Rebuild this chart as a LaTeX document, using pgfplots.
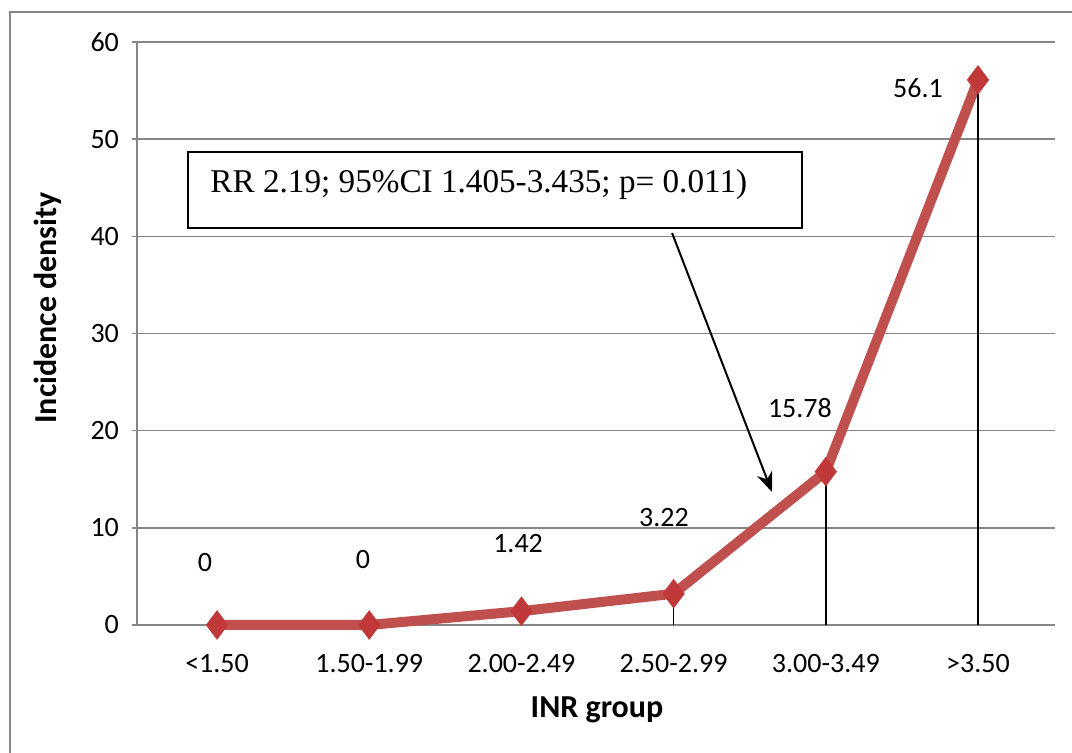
\documentclass[border=0pt]{standalone}
\usepackage{pgfplots}
\pgfplotsset{compat=1.18}
\usepackage{fontspec}
\setmainfont{Carlito}
\newfontfamily\boxfont{Liberation Serif}
\usetikzlibrary{arrows.meta}
\definecolor{gridc}{RGB}{134,134,134}
\definecolor{linec}{RGB}{192,80,77}
\definecolor{markc}{RGB}{192,57,56}
\begin{document}
\begin{tikzpicture}
\useasboundingbox (0,0) rectangle (536pt,376.5pt);
\draw[gridc, line width=1pt] (5pt,-2pt) -- (5pt,370.5pt) -- (538pt,370.5pt);
\begin{axis}[
  at={(68.5pt,64pt)}, anchor=south west,
  scale only axis, width=459pt, height=291.5pt,
  xmin=-0.526, xmax=5.506, ymin=0, ymax=60,
  clip=false,
  axis x line=bottom, axis y line=left,
  axis line style={gridc, line width=0.75pt, -},
  xtick={0,1,2,3,4,5},
  xticklabels={{<1.50},{1.50-1.99},{2.00-2.49},{2.50-2.99},{3.00-3.49},{>3.50}},
  ytick={0,10,20,30,40,50,60},
  ymajorgrids, grid style={gridc, line width=0.75pt},
  xtick style={draw=none},
  ytick style={gridc, line width=0.75pt},
  tick align=outside, major tick length=2.5pt,
  /pgf/number format/assume math mode=true,
  ticklabel style={font=\fontsize{14}{16}\selectfont},
  xticklabel style={yshift=-8.5pt},
  yticklabel style={xshift=-3pt},
]
\addplot[linec, line width=5pt, mark=diamond*, mark size=7pt,
  mark options={fill=markc, draw=markc, line width=0.5pt}]
  coordinates {(0,0) (1,0) (2,1.42) (3,3.22) (4,15.78) (5,56.1)};
\addplot[ycomb, black, line width=0.8pt, no marks]
  coordinates {(0,0) (1,0) (2,1.42) (3,3.22) (4,15.78) (5,56.1)};
\begin{scope}[every node/.style={font=\fontsize{14}{16}\selectfont}]
\node at (axis cs:-0.079,6.38) {0};
\node at (axis cs:0.959,6.69) {0};
\node at (axis cs:1.978,8.34) {1.42};
\node at (axis cs:2.937,11.11) {3.22};
\node at (axis cs:3.830,22.33) {15.78};
\node at (axis cs:4.606,55.26) {56.1};
\end{scope}
\draw[black, line width=1pt, fill=white] (axis cs:-0.19,48.68) rectangle (axis cs:3.846,40.86);
\node[anchor=base west, inner sep=0pt, font=\boxfont\fontsize{16.6}{19}\selectfont]
  at (axis cs:-0.046,44.46) {RR 2.19; 95\%CI 1.405-3.435; p= 0.011)};
\draw[black, line width=1pt, -{Stealth[length=10pt,width=8pt]}]
  (axis cs:2.99,40.34) -- (axis cs:3.646,13.69);
\end{axis}
\node[font=\fontsize{16}{19}\selectfont\bfseries] at (298.5pt,21.5pt) {INR group};
\node[font=\fontsize{16}{19}\selectfont\bfseries, rotate=90] at (24pt,222.5pt) {Incidence density};
\end{tikzpicture}
\end{document}
